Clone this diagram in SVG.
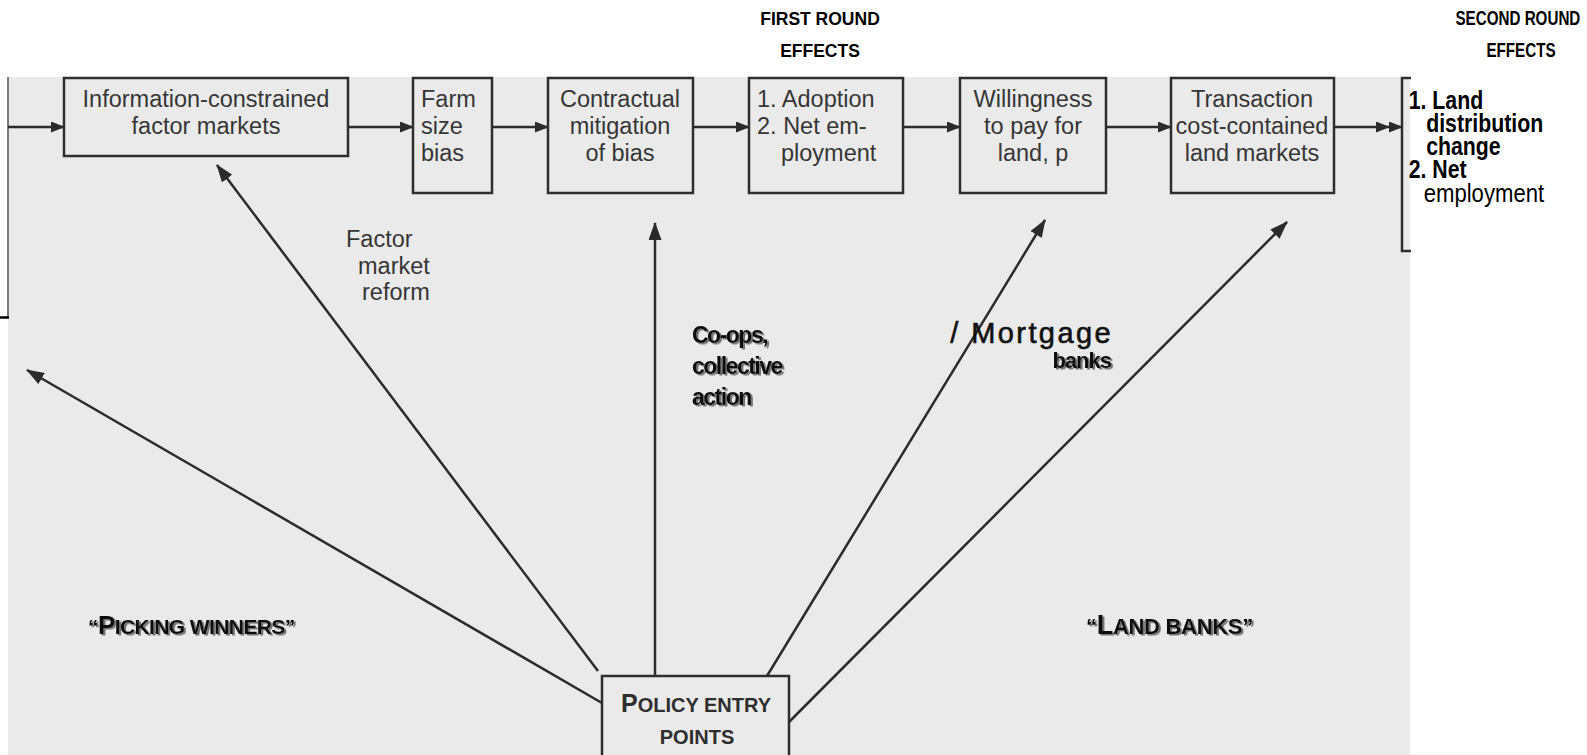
<svg xmlns="http://www.w3.org/2000/svg" width="1587" height="755" viewBox="0 0 1587 755">
<defs>
<style>
.bx{fill:none;stroke:#2e2e2e;stroke-width:2.5}
.ln{fill:none;stroke:#2b2b2b;stroke-width:2.5}
.t{font-family:"Liberation Sans",Arial,sans-serif;font-size:23.5px;fill:#363636}
.c{text-anchor:middle}
.hd{font-family:"Liberation Sans",Arial,sans-serif;font-size:17.5px;font-weight:bold;fill:#000;text-anchor:middle}
.nw{font-family:"Liberation Sans",Arial,sans-serif;fill:#000}
.sh{font-family:"Liberation Sans",Arial,sans-serif;font-weight:bold;fill:#111;filter:url(#ds)}
</style>
<filter id="ds" x="-10%" y="-30%" width="130%" height="160%">
<feDropShadow dx="2" dy="1.5" stdDeviation="0.6" flood-color="#666" flood-opacity="0.9"/>
</filter>
<marker id="ah" markerWidth="14" markerHeight="11" refX="13" refY="5.5" orient="auto" markerUnits="userSpaceOnUse">
<path d="M0,0 L14,5.5 L0,11 z" fill="#2b2b2b"/>
</marker>
<marker id="ad" markerWidth="18" markerHeight="13" refX="17" refY="6.5" orient="auto" markerUnits="userSpaceOnUse">
<path d="M0,0 L18,6.5 L0,13 z" fill="#2b2b2b"/>
</marker>
</defs>

<rect id="background" x="8" y="77" width="1402" height="678" fill="#eaeaea"/>
<g id="frame-left">
<line x1="8" y1="77" x2="8" y2="317" stroke="#555" stroke-width="1.5"/>
<line x1="0" y1="317.5" x2="9" y2="317.5" stroke="#000" stroke-width="2.5"/>
</g>

<g id="headers">
<text class="hd" x="820" y="25">FIRST ROUND</text>
<text class="hd" x="820" y="57">EFFECTS</text>
<g transform="scale(0.78,1)">
<text class="nw" x="1946" y="25" font-size="19.5" font-weight="bold" text-anchor="middle">SECOND ROUND</text>
<text class="nw" x="1950" y="57" font-size="19.5" font-weight="bold" text-anchor="middle">EFFECTS</text>
</g>
</g>

<g id="connectors">
<line class="ln" x1="8" y1="127" x2="64" y2="127" marker-end="url(#ah)"/>
<line class="ln" x1="348" y1="127" x2="413" y2="127" marker-end="url(#ah)"/>
<line class="ln" x1="492" y1="127" x2="548" y2="127" marker-end="url(#ah)"/>
<line class="ln" x1="693" y1="127" x2="749" y2="127" marker-end="url(#ah)"/>
<line class="ln" x1="903" y1="127" x2="960" y2="127" marker-end="url(#ah)"/>
<line class="ln" x1="1106" y1="127" x2="1171" y2="127" marker-end="url(#ah)"/>
<polyline class="ln" points="1334,127 1389,127 1402,127" marker-mid="url(#ah)" marker-end="url(#ah)"/>
<line class="ln" x1="602" y1="703" x2="27" y2="370" marker-end="url(#ad)"/>
<line class="ln" x1="598" y1="671" x2="217" y2="165" marker-end="url(#ad)"/>
<line class="ln" x1="655" y1="676" x2="655" y2="223" marker-end="url(#ad)"/>
<line class="ln" x1="767" y1="676" x2="1045" y2="220" marker-end="url(#ad)"/>
<line class="ln" x1="789" y1="722" x2="1287" y2="222" marker-end="url(#ad)"/>
</g>

<g id="n1">
<rect class="bx" x="64" y="78" width="284" height="78"/>
<text class="t c" x="206" y="107">Information-constrained</text>
<text class="t c" x="206" y="134">factor markets</text>
</g>
<g id="n2">
<rect class="bx" x="413" y="78" width="79" height="115"/>
<text class="t" x="421" y="107">Farm</text>
<text class="t" x="421" y="134">size</text>
<text class="t" x="421" y="161">bias</text>
</g>
<g id="n3">
<rect class="bx" x="548" y="78" width="145" height="115"/>
<text class="t c" x="620" y="107">Contractual</text>
<text class="t c" x="620" y="134">mitigation</text>
<text class="t c" x="620" y="161">of bias</text>
</g>
<g id="n4">
<rect class="bx" x="749" y="78" width="154" height="115"/>
<text class="t" x="757" y="107">1. Adoption</text>
<text class="t" x="757" y="134">2. Net em-</text>
<text class="t" x="781" y="161">ployment</text>
</g>
<g id="n5">
<rect class="bx" x="960" y="78" width="146" height="115"/>
<text class="t c" x="1033" y="107">Willingness</text>
<text class="t c" x="1033" y="134">to pay for</text>
<text class="t c" x="1033" y="161">land, p</text>
</g>
<g id="n6">
<rect class="bx" x="1171" y="78" width="163" height="115"/>
<text class="t c" x="1252" y="107">Transaction</text>
<text class="t c" x="1252" y="134">cost-contained</text>
<text class="t c" x="1252" y="161">land markets</text>
</g>
<g id="n7">
<path class="bx" d="M1411,78 L1402,78 L1402,251 L1411,251"/>
<g transform="scale(0.835,1)">
<text class="nw" x="1687" y="109" font-size="25.5" font-weight="bold">1. Land</text>
<text class="nw" x="1708" y="132" font-size="25.5" font-weight="bold">distribution</text>
<text class="nw" x="1708" y="155" font-size="25.5" font-weight="bold">change</text>
<text class="nw" x="1687" y="178" font-size="25.5" font-weight="bold">2. Net</text>
<text class="nw" x="1705" y="202" font-size="26.5">employment</text>
</g>
</g>

<g id="policy">
<rect class="bx" x="602" y="676" width="187" height="90"/>
<text x="696" y="712" text-anchor="middle" font-family="Liberation Sans, Arial, sans-serif" font-weight="bold" fill="#2e2e2e" font-size="20"><tspan font-size="25">P</tspan>OLICY ENTRY</text>
<text x="697" y="744" text-anchor="middle" font-family="Liberation Sans, Arial, sans-serif" font-weight="bold" fill="#2e2e2e" font-size="20">POINTS</text>
</g>

<g id="labels">
<text class="t" x="346" y="247" font-size="24">Factor</text>
<text class="t" x="358" y="274" font-size="24">market</text>
<text class="t" x="362" y="300" font-size="24">reform</text>
<text class="sh" x="692" y="343" font-size="23" letter-spacing="-1.5">Co-ops,</text>
<text class="sh" x="692" y="374" font-size="23" letter-spacing="-1.5">collective</text>
<text class="sh" x="692" y="405" font-size="23" letter-spacing="-1.5">action</text>
<text x="1113" y="343" text-anchor="end" font-family="Liberation Sans, Arial, sans-serif" font-size="29" letter-spacing="2.4" fill="#111" stroke="#111" stroke-width="0.6">/ Mortgage</text>
<text class="sh" x="1111" y="368" font-size="22" text-anchor="end" letter-spacing="-1">banks</text>
<text class="sh" x="88" y="634" font-size="21" letter-spacing="-0.6">“<tspan font-size="26">P</tspan>ICKING WINNERS”</text>
<text class="sh" x="1086" y="634" font-size="22" letter-spacing="-0.3">“<tspan font-size="27">L</tspan>AND BANKS”</text>
</g>
</svg>
